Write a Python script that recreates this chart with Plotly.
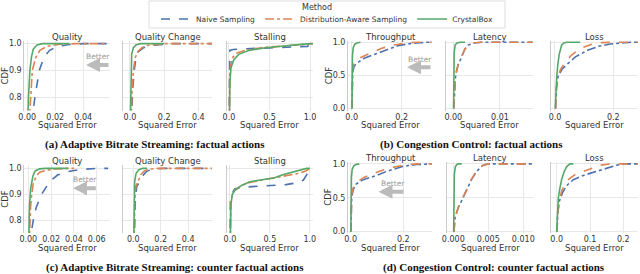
import plotly.graph_objects as go

W, H = 640, 274

methods = ["Naive Sampling", "Distribution-Aware Sampling", "CrystalBox"]
colors = ["#4c72b0", "#dd8452", "#55a868"]

# ---------------- (a) ABR factual ----------------
a_quality_naive_x = [0.0035, 0.0042, 0.0055, 0.0086, 0.012, 0.016, 0.022, 0.03, 0.04, 0.057]
a_quality_naive_y = [0.70, 0.75, 0.80, 0.90, 0.95, 0.975, 0.99, 0.997, 1.0, 1.0]
a_quality_da_x = [0.0012, 0.0016, 0.0025, 0.0036, 0.0062, 0.009, 0.014, 0.022, 0.035, 0.057]
a_quality_da_y = [0.70, 0.75, 0.80, 0.90, 0.95, 0.975, 0.99, 0.997, 1.0, 1.0]
a_quality_cb_x = [0.0003, 0.0005, 0.0009, 0.0019, 0.003, 0.0043, 0.007, 0.011, 0.03]
a_quality_cb_y = [0.70, 0.75, 0.80, 0.90, 0.95, 0.98, 0.995, 1.0, 1.0]

a_qchange_naive_x = [0.008, 0.01, 0.015, 0.025, 0.035, 0.05, 0.08, 0.12, 0.25, 0.49]
a_qchange_naive_y = [0.70, 0.75, 0.82, 0.90, 0.946, 0.97, 0.985, 0.993, 1.0, 1.0]
a_qchange_da_x = [0.006, 0.008, 0.012, 0.02, 0.03, 0.045, 0.07, 0.1, 0.2, 0.49]
a_qchange_da_y = [0.70, 0.75, 0.82, 0.90, 0.946, 0.97, 0.985, 0.993, 1.0, 1.0]
a_qchange_cb_x = [0.002, 0.003, 0.004, 0.006, 0.01, 0.02, 0.035, 0.06, 0.2]
a_qchange_cb_y = [0.70, 0.75, 0.82, 0.90, 0.96, 0.985, 0.995, 1.0, 1.0]

a_stall_naive_x = [0.003, 0.004, 0.006, 0.01, 0.05, 0.2, 0.5, 0.8, 0.97, 1.0, 1.04]
a_stall_naive_y = [0.70, 0.80, 0.95, 0.975, 0.978, 0.981, 0.984, 0.987, 0.99, 1.0, 1.0]
a_stall_da_x = [0.004, 0.006, 0.01, 0.02, 0.05, 0.1, 0.2, 0.4, 0.7, 1.0, 1.04]
a_stall_da_y = [0.70, 0.80, 0.88, 0.92, 0.95, 0.965, 0.975, 0.985, 0.992, 1.0, 1.0]
a_stall_cb_x = [0.006, 0.008, 0.012, 0.025, 0.06, 0.12, 0.25, 0.45, 0.7, 1.0, 1.04]
a_stall_cb_y = [0.70, 0.78, 0.86, 0.91, 0.94, 0.96, 0.975, 0.985, 0.993, 1.0, 1.0]

# ---------------- (b) CC factual ----------------
b_thr_naive_x = [0.001, 0.002, 0.004, 0.01, 0.02, 0.05, 0.1, 0.15, 0.185, 0.24, 0.3, 0.32]
b_thr_naive_y = [0.0, 0.3, 0.55, 0.64, 0.685, 0.76, 0.835, 0.9, 0.95, 0.985, 1.0, 1.0]
b_thr_da_x = [0.001, 0.002, 0.004, 0.01, 0.03, 0.073, 0.12, 0.17, 0.22, 0.26, 0.32]
b_thr_da_y = [0.0, 0.35, 0.6, 0.7, 0.76, 0.835, 0.91, 0.96, 0.99, 1.0, 1.0]
b_thr_cb_x = [0.001, 0.002, 0.003, 0.006, 0.012, 0.02, 0.03, 0.035]
b_thr_cb_y = [0.0, 0.5, 0.8, 0.92, 0.97, 0.99, 1.0, 1.0]

b_lat_naive_x = [0.0001, 0.0003, 0.0005, 0.001, 0.0018, 0.0025, 0.0032, 0.0045, 0.006, 0.017]
b_lat_naive_y = [0.0, 0.3, 0.5, 0.65, 0.79, 0.9, 0.96, 0.99, 1.0, 1.0]
b_lat_da_x = [0.0001, 0.0003, 0.0005, 0.001, 0.0018, 0.0025, 0.0032, 0.0044, 0.006, 0.017]
b_lat_da_y = [0.0, 0.32, 0.51, 0.66, 0.8, 0.9, 0.96, 0.99, 1.0, 1.0]
b_lat_cb_x = [0.00005, 0.0001, 0.0002, 0.0004, 0.0008, 0.0015, 0.0025]
b_lat_cb_y = [0.0, 0.5, 0.85, 0.96, 0.99, 1.0, 1.0]

b_loss_naive_x = [0.002, 0.005, 0.01, 0.025, 0.046, 0.07, 0.114, 0.15, 0.19, 0.23, 0.26, 0.285]
b_loss_naive_y = [0.0, 0.3, 0.48, 0.6, 0.685, 0.78, 0.885, 0.94, 0.975, 0.995, 1.0, 1.0]
b_loss_da_x = [0.002, 0.005, 0.011, 0.02, 0.034, 0.055, 0.08, 0.1, 0.13, 0.16, 0.2, 0.285]
b_loss_da_y = [0.0, 0.3, 0.49, 0.6, 0.69, 0.8, 0.885, 0.93, 0.975, 0.995, 1.0, 1.0]
b_loss_cb_x = [0.001, 0.003, 0.006, 0.01, 0.015, 0.023, 0.03, 0.04, 0.086]
b_loss_cb_y = [0.0, 0.25, 0.485, 0.68, 0.83, 0.96, 0.99, 1.0, 1.0]

# ---------------- (c) ABR counterfactual ----------------
c_quality_naive_x = [0.002, 0.0025, 0.0044, 0.007, 0.0117, 0.019, 0.026, 0.034, 0.045, 0.06, 0.07]
c_quality_naive_y = [0.70, 0.75, 0.80, 0.85, 0.90, 0.95, 0.975, 0.987, 0.995, 1.0, 1.0]
c_quality_da_x = [0.0007, 0.001, 0.002, 0.003, 0.0044, 0.007, 0.01, 0.016, 0.025, 0.035, 0.04]
c_quality_da_y = [0.70, 0.75, 0.85, 0.90, 0.942, 0.97, 0.985, 0.993, 0.998, 1.0, 1.0]
c_quality_cb_x = [0.0003, 0.0005, 0.001, 0.002, 0.004, 0.006, 0.01, 0.015, 0.035]
c_quality_cb_y = [0.70, 0.75, 0.85, 0.92, 0.97, 0.99, 0.998, 1.0, 1.0]

c_qchange_naive_x = [0.006, 0.008, 0.015, 0.025, 0.049, 0.075, 0.1, 0.15, 0.22, 0.574]
c_qchange_naive_y = [0.70, 0.75, 0.88, 0.93, 0.95, 0.975, 0.99, 0.997, 1.0, 1.0]
c_qchange_da_x = [0.005, 0.006, 0.011, 0.018, 0.035, 0.055, 0.08, 0.12, 0.18, 0.574]
c_qchange_da_y = [0.70, 0.75, 0.88, 0.93, 0.95, 0.975, 0.99, 0.997, 1.0, 1.0]
c_qchange_cb_x = [0.003, 0.004, 0.006, 0.01, 0.02, 0.04, 0.07, 0.1]
c_qchange_cb_y = [0.70, 0.75, 0.90, 0.95, 0.98, 0.995, 1.0, 1.0]

c_stall_naive_x = [0.002, 0.003, 0.006, 0.02, 0.06, 0.15, 0.3, 0.5, 0.7, 0.85, 0.92, 0.96, 0.99, 1.0]
c_stall_naive_y = [0.70, 0.75, 0.88, 0.90, 0.92, 0.927, 0.93, 0.933, 0.937, 0.945, 0.955, 0.975, 0.995, 1.0]
c_stall_da_x = [0.003, 0.005, 0.01, 0.03, 0.06, 0.15, 0.25, 0.4, 0.55, 0.7, 0.85, 0.95, 1.0]
c_stall_da_y = [0.70, 0.75, 0.87, 0.90, 0.915, 0.935, 0.945, 0.955, 0.963, 0.97, 0.98, 0.99, 1.0]
c_stall_cb_x = [0.004, 0.006, 0.012, 0.03, 0.06, 0.15, 0.25, 0.4, 0.55, 0.66, 0.8, 0.9, 0.96, 1.0]
c_stall_cb_y = [0.70, 0.75, 0.86, 0.90, 0.915, 0.935, 0.948, 0.956, 0.963, 0.975, 0.988, 0.995, 1.0, 1.0]

# ---------------- (d) CC counterfactual ----------------
d_thr_naive_x = [0.001, 0.002, 0.004, 0.01, 0.02, 0.048, 0.1, 0.137, 0.2, 0.25, 0.28, 0.309]
d_thr_naive_y = [0.0, 0.3, 0.5, 0.62, 0.7, 0.767, 0.83, 0.89, 0.965, 0.99, 1.0, 1.0]
d_thr_da_x = [0.001, 0.002, 0.004, 0.01, 0.02, 0.05, 0.08, 0.11, 0.15, 0.2, 0.25, 0.309]
d_thr_da_y = [0.0, 0.35, 0.55, 0.65, 0.72, 0.8, 0.85, 0.89, 0.94, 0.98, 1.0, 1.0]
d_thr_cb_x = [0.001, 0.002, 0.003, 0.006, 0.012, 0.02, 0.029, 0.033]
d_thr_cb_y = [0.0, 0.5, 0.8, 0.92, 0.97, 0.99, 1.0, 1.0]

d_lat_naive_x = [0.0001, 0.00024, 0.0007, 0.0014, 0.002, 0.0026, 0.0032, 0.0038, 0.0043, 0.005, 0.0114]
d_lat_naive_y = [0.0, 0.2, 0.35, 0.5, 0.65, 0.767, 0.87, 0.94, 0.98, 1.0, 1.0]
d_lat_da_x = [0.0001, 0.00024, 0.0007, 0.0014, 0.002, 0.0026, 0.0032, 0.0038, 0.0043, 0.005, 0.0114]
d_lat_da_y = [0.0, 0.21, 0.36, 0.51, 0.66, 0.775, 0.875, 0.945, 0.982, 1.0, 1.0]
d_lat_cb_x = [0.00005, 0.0001, 0.00015, 0.0003, 0.0005, 0.0007, 0.0012]
d_lat_cb_y = [0.0, 0.5, 0.85, 0.96, 0.99, 1.0, 1.0]

d_loss_naive_x = [0.001, 0.003, 0.008, 0.018, 0.03, 0.05, 0.08, 0.12, 0.15, 0.18, 0.2, 0.244]
d_loss_naive_y = [0.0, 0.25, 0.45, 0.58, 0.68, 0.767, 0.83, 0.89, 0.94, 0.98, 1.0, 1.0]
d_loss_da_x = [0.001, 0.003, 0.007, 0.015, 0.025, 0.035, 0.055, 0.08, 0.11, 0.13, 0.16, 0.244]
d_loss_da_y = [0.0, 0.25, 0.45, 0.6, 0.7, 0.767, 0.84, 0.89, 0.95, 0.98, 1.0, 1.0]
d_loss_cb_x = [0.0, 0.002, 0.005, 0.01, 0.015, 0.022, 0.03, 0.04, 0.05]
d_loss_cb_y = [0.0, 0.3, 0.5, 0.65, 0.77, 0.88, 0.96, 1.0, 1.0]

# tick labels
abr_y_ticks = [0.8, 0.9, 1.0]
abr_y_text = ["0.8", "0.9", "1.0"]
cc_y_ticks = [0.0, 0.5, 1.0]
cc_y_text = ["0.0", "0.5", "1.0"]

legend_title = "Method"
captions = ["(a) Adaptive Bitrate Streaming: factual actions",
            "(b) Congestion Control: factual actions",
            "(c) Adaptive Bitrate Streaming: counter factual actions",
            "(d) Congestion Control: counter factual actions"]

# ---------------- layout geometry (pixels) ----------------
abr_dashes = ["dash", "dashdot", "solid"]
cc_dashes = ["dashdot", "dash", "solid"]

panels = [
    dict(title="Quality", xd=(24.3, 110), yd=(41, 110.5), xr=[-0.0021, 0.0591], yr=[0.75, 1.01],
         xt=[0, 0.02, 0.04], xl=["0.00", "0.02", "0.04"], yt=(abr_y_ticks, abr_y_text), first=True,
         data=[(a_quality_naive_x, a_quality_naive_y), (a_quality_da_x, a_quality_da_y), (a_quality_cb_x, a_quality_cb_y)], dash=abr_dashes),
    dict(title="Quality Change", xd=(123.3, 212), yd=(41, 110.5), xr=[-0.039, 0.48], yr=[0.75, 1.01],
         xt=[0, 0.2, 0.4], xl=["0.0", "0.2", "0.4"], yt=(abr_y_ticks, abr_y_text), first=False,
         data=[(a_qchange_naive_x, a_qchange_naive_y), (a_qchange_da_x, a_qchange_da_y), (a_qchange_cb_x, a_qchange_cb_y)], dash=abr_dashes),
    dict(title="Stalling", xd=(226.7, 313), yd=(41, 110.5), xr=[-0.028, 1.037], yr=[0.75, 1.01],
         xt=[0, 0.5, 1.0], xl=["0.0", "0.5", "1.0"], yt=(abr_y_ticks, abr_y_text), first=False,
         data=[(a_stall_naive_x, a_stall_naive_y), (a_stall_da_x, a_stall_da_y), (a_stall_cb_x, a_stall_cb_y)], dash=abr_dashes),
    dict(title="Throughput", xd=(348, 432), yd=(41, 110.5), xr=[-0.0148, 0.321], yr=[-0.03, 1.02],
         xt=[0, 0.2], xl=["0.0", "0.2"], yt=(cc_y_ticks, cc_y_text), first=True,
         data=[(b_thr_naive_x, b_thr_naive_y), (b_thr_da_x, b_thr_da_y), (b_thr_cb_x, b_thr_cb_y)], dash=cc_dashes),
    dict(title="Latency", xd=(446, 533), yd=(41, 110.5), xr=[-0.00156, 0.01707], yr=[-0.03, 1.02],
         xt=[0, 0.01], xl=["0.00", "0.01"], yt=(cc_y_ticks, cc_y_text), first=False,
         data=[(b_lat_naive_x, b_lat_naive_y), (b_lat_da_x, b_lat_da_y), (b_lat_cb_x, b_lat_cb_y)], dash=cc_dashes),
    dict(title="Loss", xd=(551, 638), yd=(41, 110.5), xr=[-0.0137, 0.2847], yr=[-0.03, 1.02],
         xt=[0, 0.2], xl=["0.0", "0.2"], yt=(cc_y_ticks, cc_y_text), first=False,
         data=[(b_loss_naive_x, b_loss_naive_y), (b_loss_da_x, b_loss_da_y), (b_loss_cb_x, b_loss_cb_y)], dash=cc_dashes),
    dict(title="Quality", xd=(24.3, 110), yd=(165, 233), xr=[-0.0035, 0.0717], yr=[0.75, 1.013],
         xt=[0, 0.02, 0.04, 0.06], xl=["0.00", "0.02", "0.04", "0.06"], yt=(abr_y_ticks, abr_y_text), first=True,
         data=[(c_quality_naive_x, c_quality_naive_y), (c_quality_da_x, c_quality_da_y), (c_quality_cb_x, c_quality_cb_y)], dash=abr_dashes),
    dict(title="Quality Change", xd=(123.3, 212), yd=(165, 233), xr=[-0.073, 0.574], yr=[0.75, 1.013],
         xt=[0, 0.2, 0.4], xl=["0.0", "0.2", "0.4"], yt=(abr_y_ticks, abr_y_text), first=False,
         data=[(c_qchange_naive_x, c_qchange_naive_y), (c_qchange_da_x, c_qchange_da_y), (c_qchange_cb_x, c_qchange_cb_y)], dash=abr_dashes),
    dict(title="Stalling", xd=(226.7, 313), yd=(165, 233), xr=[-0.041, 1.04], yr=[0.75, 1.013],
         xt=[0, 0.5, 1.0], xl=["0.0", "0.5", "1.0"], yt=(abr_y_ticks, abr_y_text), first=False,
         data=[(c_stall_naive_x, c_stall_naive_y), (c_stall_da_x, c_stall_da_y), (c_stall_cb_x, c_stall_cb_y)], dash=abr_dashes),
    dict(title="Throughput", xd=(348, 432), yd=(161.5, 233), xr=[-0.010, 0.309], yr=[-0.02, 1.035],
         xt=[0, 0.2], xl=["0.0", "0.2"], yt=(cc_y_ticks, cc_y_text), first=True,
         data=[(d_thr_naive_x, d_thr_naive_y), (d_thr_da_x, d_thr_da_y), (d_thr_cb_x, d_thr_cb_y)], dash=cc_dashes),
    dict(title="Latency", xd=(447, 533), yd=(161.5, 233), xr=[-0.0009, 0.01139], yr=[-0.02, 1.035],
         xt=[0, 0.005, 0.01], xl=["0.000", "0.005", "0.010"], yt=(cc_y_ticks, cc_y_text), first=False,
         data=[(d_lat_naive_x, d_lat_naive_y), (d_lat_da_x, d_lat_da_y), (d_lat_cb_x, d_lat_cb_y)], dash=cc_dashes),
    dict(title="Loss", xd=(551, 638), yd=(161.5, 233), xr=[-0.017, 0.244], yr=[-0.02, 1.035],
         xt=[0, 0.1, 0.2], xl=["0.0", "0.1", "0.2"], yt=(cc_y_ticks, cc_y_text), first=False,
         data=[(d_loss_naive_x, d_loss_naive_y), (d_loss_da_x, d_loss_da_y), (d_loss_cb_x, d_loss_cb_y)], dash=cc_dashes),
]


def fx(px):
    return px / W


def fy(py):
    return 1 - py / H


TXT = "#333333"
GRID = "#e8e8e8"
FONT = "DejaVu Sans"

fig = go.Figure()
annotations = []
layout = {}

for i, p in enumerate(panels):
    n = i + 1
    xa = "x" if n == 1 else f"x{n}"
    ya = "y" if n == 1 else f"y{n}"
    for m in range(3):
        xs, ys = p["data"][m]
        fig.add_trace(go.Scatter(
            x=xs, y=ys, mode="lines", xaxis=xa, yaxis=ya,
            name=methods[m], legendgroup=methods[m], showlegend=(i == 0),
            line=dict(color=colors[m], width=1.6, dash=p["dash"][m]),
            hoverinfo="skip"))
    layout["xaxis" if n == 1 else f"xaxis{n}"] = dict(
        domain=[fx(p["xd"][0]), fx(p["xd"][1])], range=p["xr"], anchor=ya,
        tickmode="array", tickvals=p["xt"], ticktext=p["xl"], automargin=False,
        showgrid=True, gridcolor=GRID, gridwidth=1, zeroline=False, showline=False,
        ticks="", tickfont=dict(size=8, color=TXT, family=FONT))
    layout["yaxis" if n == 1 else f"yaxis{n}"] = dict(
        domain=[fy(p["yd"][1]), fy(p["yd"][0])], range=p["yr"], anchor=xa,
        tickmode="array", tickvals=p["yt"][0], ticktext=p["yt"][1], automargin=False,
        showticklabels=p["first"],
        showgrid=True, gridcolor=GRID, gridwidth=1, zeroline=False,
        showline=True, linecolor="#cccccc", linewidth=1,
        ticks="", tickfont=dict(size=8, color=TXT, family=FONT))
    cx = (p["xd"][0] + p["xd"][1]) / 2
    annotations.append(dict(text=p["title"], x=fx(cx), y=fy(p["yd"][0] - 4), xref="paper", yref="paper",
                            showarrow=False, xanchor="center", yanchor="middle",
                            font=dict(size=8.5, color=TXT, family=FONT)))
    annotations.append(dict(text="Squared Error", x=fx(cx), y=fy(p["yd"][1] + 14.5), xref="paper", yref="paper",
                            showarrow=False, xanchor="center", yanchor="middle",
                            font=dict(size=8.5, color=TXT, family=FONT)))
    if p["first"]:
        annotations.append(dict(text="CDF", x=fx(p["xd"][0] - 19.5), y=fy((p["yd"][0] + p["yd"][1]) / 2),
                                xref="paper", yref="paper", showarrow=False, textangle=-90,
                                xanchor="center", yanchor="middle",
                                font=dict(size=8.5, color=TXT, family=FONT)))

# captions
cap_pos = [(155, 144), (471.5, 144), (175, 267), (493.5, 267)]
for txt, (cx, cy) in zip(captions, cap_pos):
    annotations.append(dict(text="<b>" + txt + "</b>", x=fx(cx), y=fy(cy), xref="paper", yref="paper",
                            showarrow=False, xanchor="center", yanchor="middle",
                            font=dict(size=11, color="#111111", family="Liberation Serif")))

# "Better" hints
better = [((98.3, 56.7), (86, 110, 65)), ((420, 60), (407, 432, 67.3)),
          ((85, 179.3), (73, 97.3, 188.3)), ((392.7, 183.3), (378.5, 405, 191.7))]
for (tx, ty), (hx, tx2, ay) in better:
    annotations.append(dict(text="Better", x=fx(tx), y=fy(ty), xref="paper", yref="paper",
                            showarrow=False, xanchor="center", yanchor="middle",
                            font=dict(size=7.5, color="#999999", family=FONT)))
    annotations.append(dict(text="", x=fx(hx), y=fy(ay), xref="paper", yref="paper",
                            showarrow=True, ax=tx2 - hx, ay=0, axref="pixel", ayref="pixel",
                            arrowhead=2, arrowsize=0.7, arrowwidth=4, arrowcolor="#bbbbbb",
                            standoff=0, startstandoff=0))

# legend title (legend box drawn as a rounded frame behind it)
annotations.append(dict(text=legend_title, x=fx(317), y=fy(7.5), xref="paper", yref="paper",
                        showarrow=False, xanchor="center", yanchor="middle",
                        font=dict(size=8, color=TXT, family=FONT)))
shapes = [dict(type="rect", xref="paper", yref="paper", x0=fx(149), x1=fx(505), y0=fy(28), y1=fy(1),
               line=dict(color="#dddddd", width=1), fillcolor="white", layer="below")]

fig.update_layout(
    width=W, height=H, margin=dict(l=0, r=0, t=0, b=0, pad=0, autoexpand=False),
    paper_bgcolor="white", plot_bgcolor="white",
    font=dict(family=FONT, size=8, color=TXT),
    annotations=annotations, shapes=shapes,
    legend=dict(orientation="h", x=fx(327), y=fy(19), xanchor="center", yanchor="middle",
                font=dict(size=7.5, color=TXT, family=FONT),
                borderwidth=0, bgcolor="rgba(0,0,0,0)",
                itemwidth=30, tracegroupgap=0),
    **layout)

fig.write_html("out.html", config={"displayModeBar": False},
               post_script="document.body.style.margin='0';document.body.style.overflow='hidden';")
